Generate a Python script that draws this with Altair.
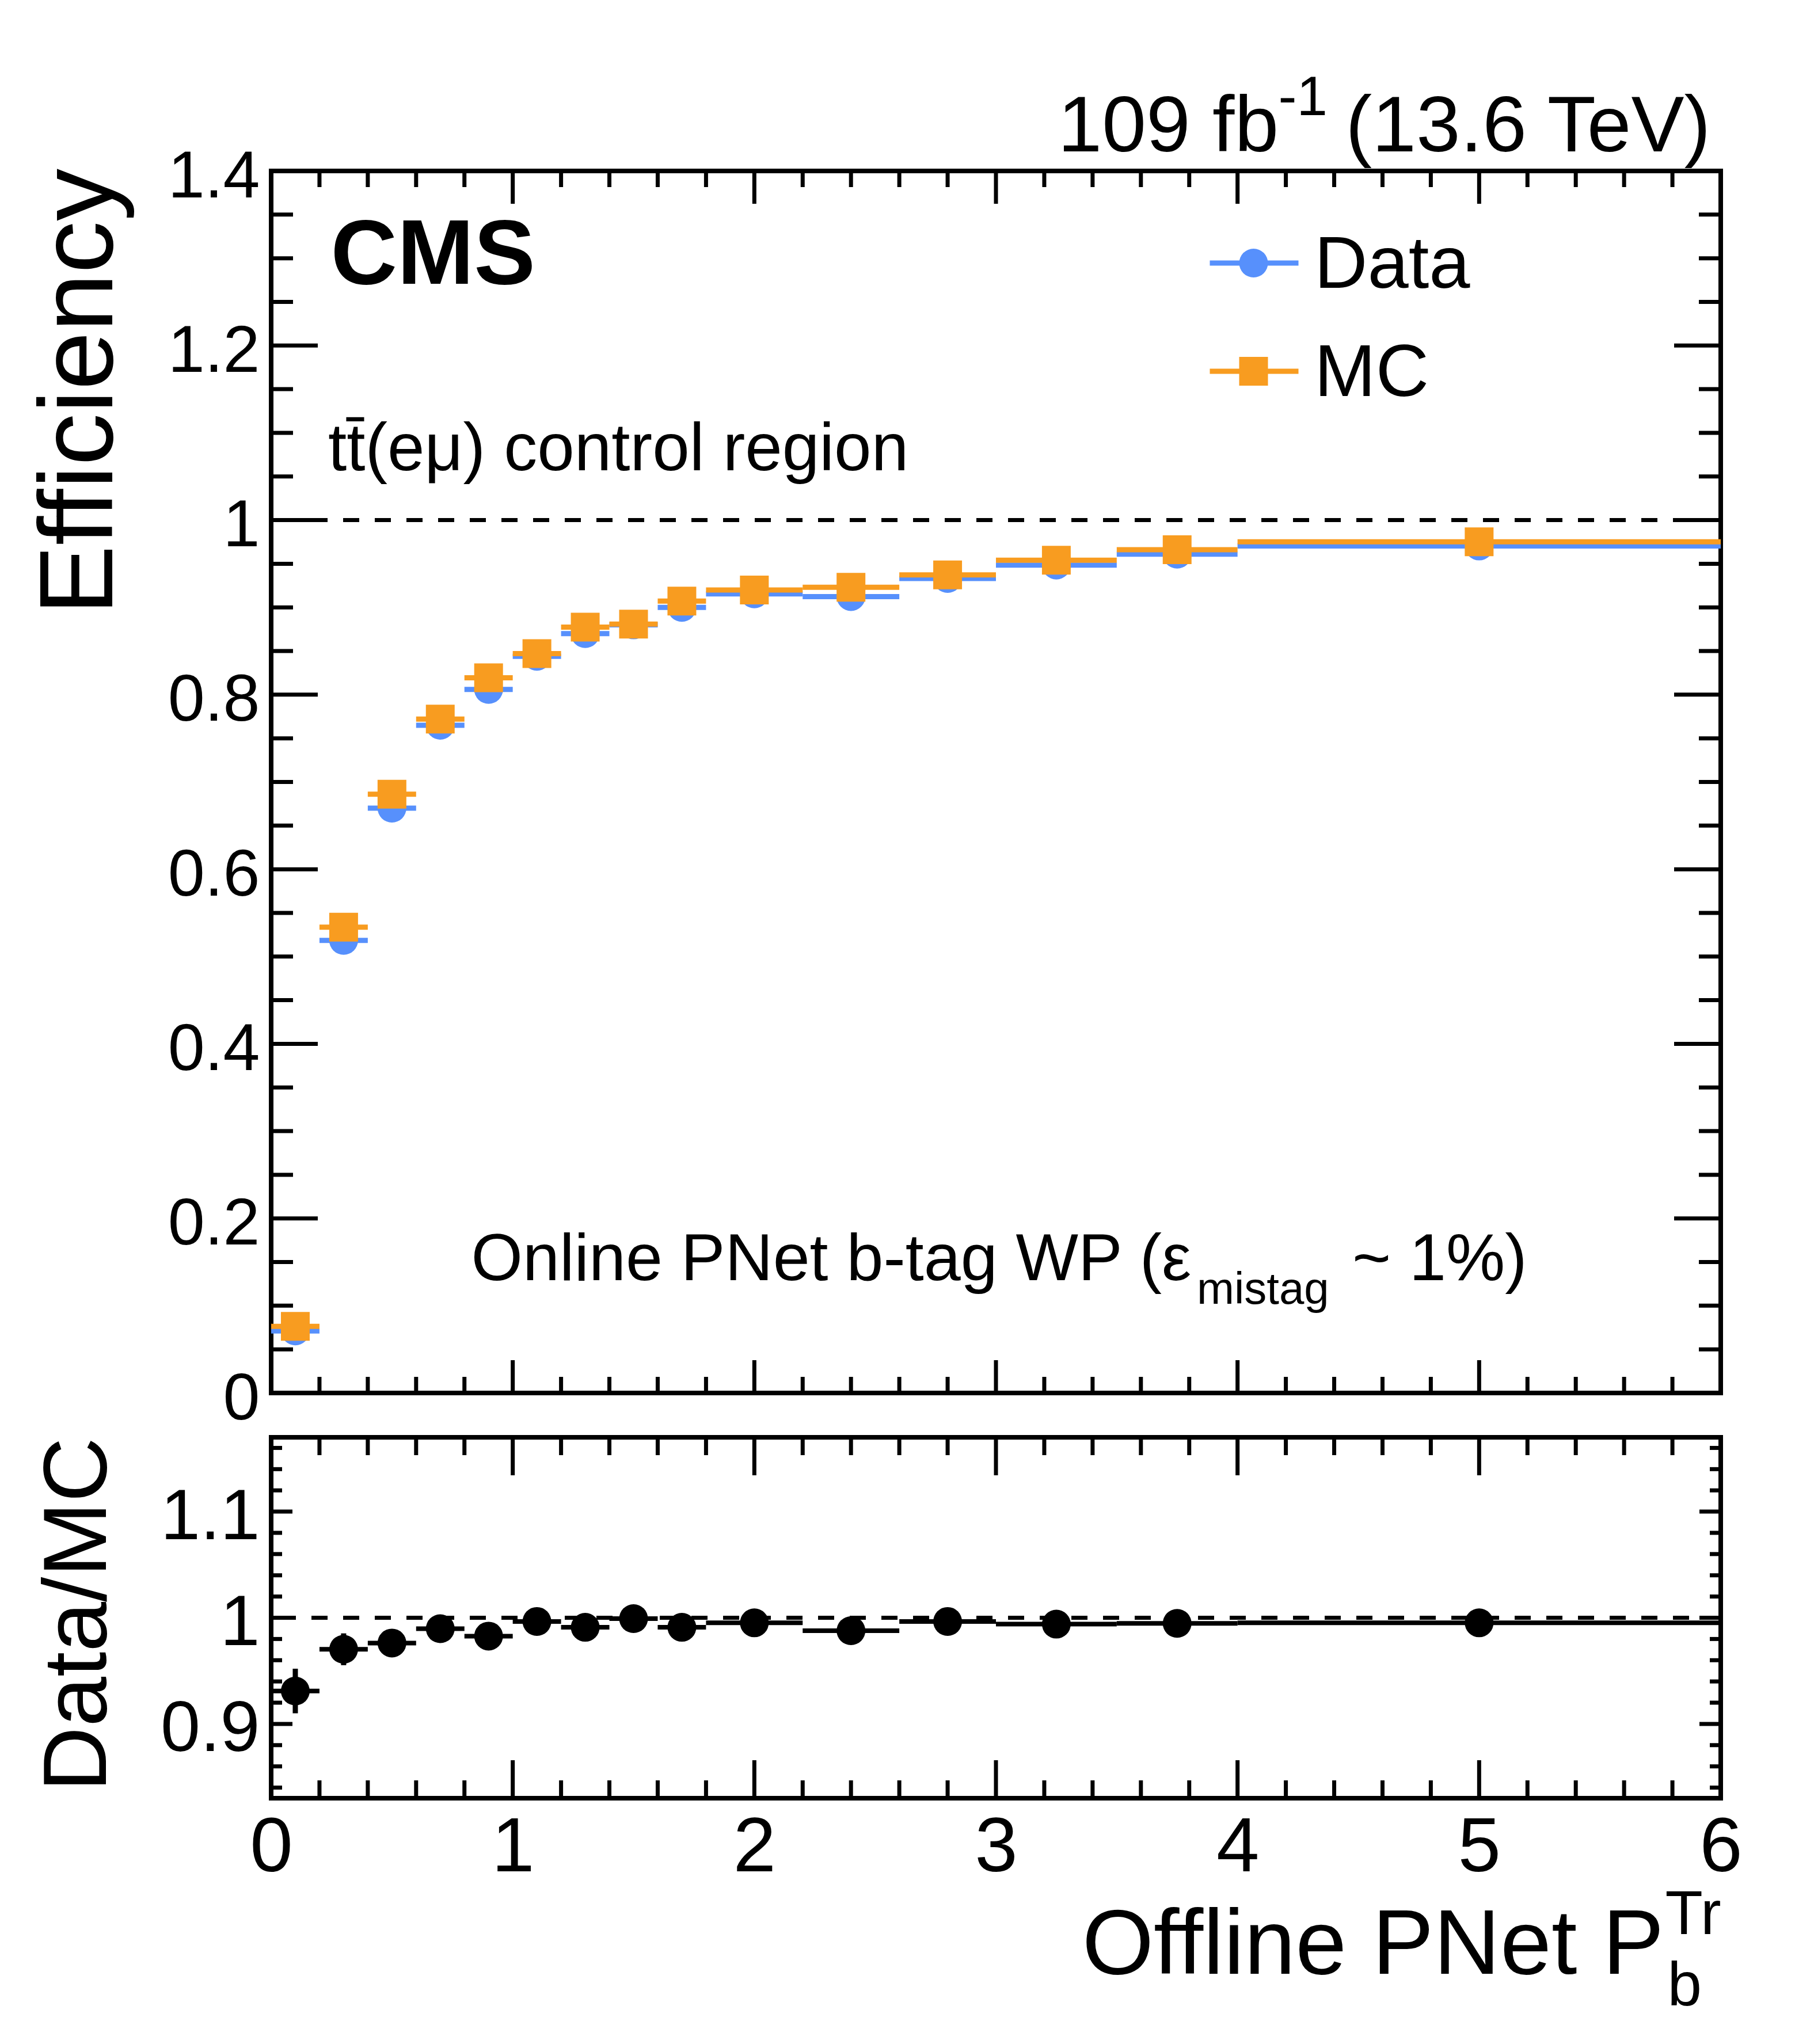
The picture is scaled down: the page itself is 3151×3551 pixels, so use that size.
import altair as alt
import pandas as pd

# ---------------- data ----------------
bin_lo = [0.0, 0.2, 0.4, 0.6, 0.8, 1.0, 1.2, 1.4, 1.6, 1.8, 2.2, 2.6, 3.0, 3.5, 4.0]
bin_hi = [0.2, 0.4, 0.6, 0.8, 1.0, 1.2, 1.4, 1.6, 1.8, 2.2, 2.6, 3.0, 3.5, 4.0, 6.0]
bin_center = [0.1, 0.3, 0.5, 0.7, 0.9, 1.1, 1.3, 1.5, 1.7, 2.0, 2.4, 2.8, 3.25, 3.75, 5.0]

eff_data = [0.0711, 0.5185, 0.670, 0.765, 0.806, 0.844, 0.870, 0.880, 0.900, 0.9155,
            0.9124, 0.9331, 0.9485, 0.961, 0.9703]
eff_data_err = [0.003, 0.006, 0.005, 0.005, 0.005, 0.004, 0.004, 0.004, 0.004, 0.003,
                0.003, 0.003, 0.003, 0.003, 0.002]
eff_mc = [0.0764, 0.5337, 0.686, 0.772, 0.8194, 0.847, 0.8774, 0.8808, 0.9073, 0.9199,
          0.9230, 0.9373, 0.9540, 0.9661, 0.9751]
eff_mc_err = [0.002, 0.004, 0.004, 0.003, 0.003, 0.003, 0.003, 0.003, 0.003, 0.002,
              0.002, 0.002, 0.002, 0.002, 0.001]
ratio = [0.931, 0.9703, 0.9762, 0.9897, 0.9827, 0.9965, 0.991, 0.9992, 0.991, 0.9952,
         0.9878, 0.9965, 0.994, 0.9947, 0.9952]
ratio_err = [0.021, 0.015, 0.010, 0.008, 0.008, 0.007, 0.007, 0.007, 0.007, 0.006,
             0.007, 0.006, 0.006, 0.006, 0.005]

x_tick_labels = [0, 1, 2, 3, 4, 5, 6]
main_y_tick_labels = [0, 0.2, 0.4, 0.6, 0.8, 1.0, 1.2, 1.4]
ratio_y_tick_labels = [0.9, 1.0, 1.1]

legend_labels = ["Data", "MC"]

# ---------------- style / layout ----------------
W, H_MAIN, H_RATIO = 2518, 2123, 627
FONT = "Liberation Sans"
BLUE = "#5790fc"
ORANGE = "#f89c20"
TICK_W = 7

XS = alt.Scale(domain=[0, 6], nice=False, zero=False)
YS_MAIN = alt.Scale(domain=[0, 1.4], nice=False, zero=False)
YS_RAT = alt.Scale(domain=[0.83, 1.17], nice=False, zero=False)

main_y_axis = alt.Axis(values=main_y_tick_labels, format="~g", title=None, ticks=False,
                       tickSize=0, domain=False, grid=False, labelFont=FONT,
                       labelFontSize=115, labelColor="black", labelPadding=20,
                       labelOffset=10, labelFlush=False)
ratio_y_axis = alt.Axis(values=ratio_y_tick_labels, format="~g", title=None, ticks=False,
                        tickSize=0, domain=False, grid=False, labelFont=FONT,
                        labelFontSize=124, labelColor="black", labelPadding=20,
                        labelOffset=10, labelFlush=False)
ratio_x_axis = alt.Axis(values=x_tick_labels, format="d", title=None, ticks=False,
                        tickSize=0, domain=False, grid=False, labelFont=FONT,
                        labelFontSize=134, labelColor="black", labelPadding=20,
                        labelFlush=False)

# minor tick positions (decoration)
x_minor = [round(0.2 * i, 2) for i in range(31) if i % 5]
main_y_minor = [round(0.05 * i, 2) for i in range(29) if i % 4]
ratio_y_minor = [round(0.84 + 0.02 * i, 2) for i in range(17)
                 if round(0.84 + 0.02 * i, 2) not in (0.9, 1.0, 1.1)]

df = pd.DataFrame(dict(lo=bin_lo, hi=bin_hi, c=bin_center,
                       d=eff_data, de=eff_data_err, m=eff_mc, me=eff_mc_err,
                       r=ratio, re=ratio_err))
df["d_lo"] = df.d - df.de
df["d_hi"] = df.d + df.de
df["m_lo"] = df.m - df.me
df["m_hi"] = df.m + df.me
df["r_lo"] = df.r - df.re
df["r_hi"] = df.r + df.re


def xq(field, axis):
    return alt.X(field, type="quantitative", scale=XS, axis=axis)


def yq(field, scale, axis):
    return alt.Y(field, type="quantitative", scale=scale, axis=axis)


def tick_layers(xaxis, yscale, yaxis, h, x_major, x_minor_v, y_major, y_minor_v,
                lx_major, lx_minor, ly_major, ly_minor):
    layers = []
    for vals, L in ((x_major, lx_major), (x_minor_v, lx_minor)):
        d = alt.Chart(pd.DataFrame({"t": vals})).mark_rule(color="black", strokeWidth=TICK_W)
        layers.append(d.encode(x=xq("t", xaxis), y=alt.value(h), y2=alt.value(h - L)))
        layers.append(d.encode(x=xq("t", xaxis), y=alt.value(0), y2=alt.value(L)))
    for vals, L in ((y_major, ly_major), (y_minor_v, ly_minor)):
        d = alt.Chart(pd.DataFrame({"t": vals})).mark_rule(color="black", strokeWidth=TICK_W)
        layers.append(d.encode(y=yq("t", yscale, yaxis), x=alt.value(0), x2=alt.value(L)))
        layers.append(d.encode(y=yq("t", yscale, yaxis), x=alt.value(W - L), x2=alt.value(W)))
    return layers


def text_layer(txt, x, y, size, align="left", weight="normal", angle=0):
    return alt.Chart(pd.DataFrame({"t": [txt]})).mark_text(
        align=align, baseline="alphabetic", font=FONT, fontSize=size,
        fontWeight=weight, color="black", angle=angle
    ).encode(x=alt.value(x), y=alt.value(y), text="t:N")


# ---------------- main panel ----------------
base = alt.Chart(df)
one_main = alt.Chart(pd.DataFrame({"y": [1.0]})).mark_rule(
    color="black", strokeWidth=7, strokeDash=[28, 27]
).encode(y=yq("y", YS_MAIN, main_y_axis))

main_layers = [one_main]
for col, lo, hi, color, shape in (("d", "d_lo", "d_hi", BLUE, "circle"),
                                  ("m", "m_lo", "m_hi", ORANGE, "square")):
    main_layers.append(base.mark_rule(color=color, strokeWidth=9).encode(
        x=xq("lo", None), x2="hi", y=yq(col, YS_MAIN, main_y_axis)))
    main_layers.append(base.mark_rule(color=color, strokeWidth=9).encode(
        x=xq("c", None), y=yq(lo, YS_MAIN, main_y_axis), y2=hi))
    main_layers.append(base.mark_point(shape=shape, filled=True, size=2500, color=color,
                                       opacity=1, strokeWidth=0).encode(
        x=xq("c", None), y=yq(col, YS_MAIN, main_y_axis)))

main_layers += tick_layers(None, YS_MAIN, main_y_axis, H_MAIN,
                           x_tick_labels, x_minor, main_y_tick_labels, main_y_minor,
                           57, 28, 81, 38)

# legend (drawn by hand, ROOT style)
leg_y = [160, 348]
for lab, yy, color, shape in zip(legend_labels, leg_y, (BLUE, ORANGE), ("circle", "square")):
    dl = alt.Chart(pd.DataFrame({"t": [lab]}))
    main_layers.append(dl.mark_rule(color=color, strokeWidth=9).encode(
        x=alt.value(1630.5), x2=alt.value(1784.5), y=alt.value(yy)))
    main_layers.append(dl.mark_point(shape=shape, filled=True, size=2500, color=color,
                                     opacity=1, strokeWidth=0).encode(
        x=alt.value(1706.5), y=alt.value(yy)))
    main_layers.append(text_layer(lab, 1812, yy + 43, 128))

# annotations
main_layers += [
    text_layer("CMS", 103.5, 196, 160, weight="bold"),
    text_layer("tt\u0304(e\u03bc) control region", 99, 520, 116),
    text_layer("Online PNet b-tag WP (\u03b5", 347.5, 1927, 115),
    text_layer("mistag", 1608, 1968, 78),
    text_layer("~ 1%)", 2181.5, 1927, 115, align="right"),
    text_layer("109 fb", 1366.5, -34, 138),
    text_layer("-1", 1749.5, -97, 96),
    text_layer("(13.6 TeV)", 2500.5, -34, 138, align="right"),
    text_layer("Efficiency", -276.5, -4, 182, align="right", angle=270),
]
# layout guard: fixes the top-left corner of the page
main_layers.append(alt.Chart(pd.DataFrame({"a": [0]})).mark_point(
    size=1, opacity=0, filled=True).encode(x=alt.value(-458.5), y=alt.value(-284)))

main = alt.layer(*main_layers).properties(width=W, height=H_MAIN)

# ---------------- ratio panel ----------------
one_rat = alt.Chart(pd.DataFrame({"y": [1.0]})).mark_rule(
    color="black", strokeWidth=7, strokeDash=[28, 27]
).encode(y=yq("y", YS_RAT, ratio_y_axis))

ratio_layers = [one_rat,
                base.mark_rule(color="black", strokeWidth=8).encode(
                    x=xq("lo", ratio_x_axis), x2="hi", y=yq("r", YS_RAT, ratio_y_axis)),
                base.mark_rule(color="black", strokeWidth=9).encode(
                    x=xq("c", ratio_x_axis), y=yq("r_lo", YS_RAT, ratio_y_axis), y2="r_hi"),
                base.mark_point(shape="circle", filled=True, size=2500, color="black",
                                opacity=1, strokeWidth=0).encode(
                    x=xq("c", ratio_x_axis), y=yq("r", YS_RAT, ratio_y_axis))]
ratio_layers += tick_layers(ratio_x_axis, YS_RAT, ratio_y_axis, H_RATIO,
                            x_tick_labels, x_minor, ratio_y_tick_labels, ratio_y_minor,
                            66, 31, 37, 19)
ratio_layers += [
    text_layer("Data/MC", -287.5, 0, 156, align="right", angle=270),
    text_layer("Offline PNet P", 2419.5, 932, 160, align="right"),
    text_layer("Tr", 2421.5, 863, 107),
    text_layer("b", 2425.5, 987, 107),
]

ratio_chart = alt.layer(*ratio_layers).properties(width=W, height=H_RATIO)

chart = alt.vconcat(main, ratio_chart, spacing=-3).properties(
    padding=0, background="white"
).configure_view(stroke="black", strokeWidth=8)

chart.save("out.html", embed_options={"renderer": "svg", "actions": False})
